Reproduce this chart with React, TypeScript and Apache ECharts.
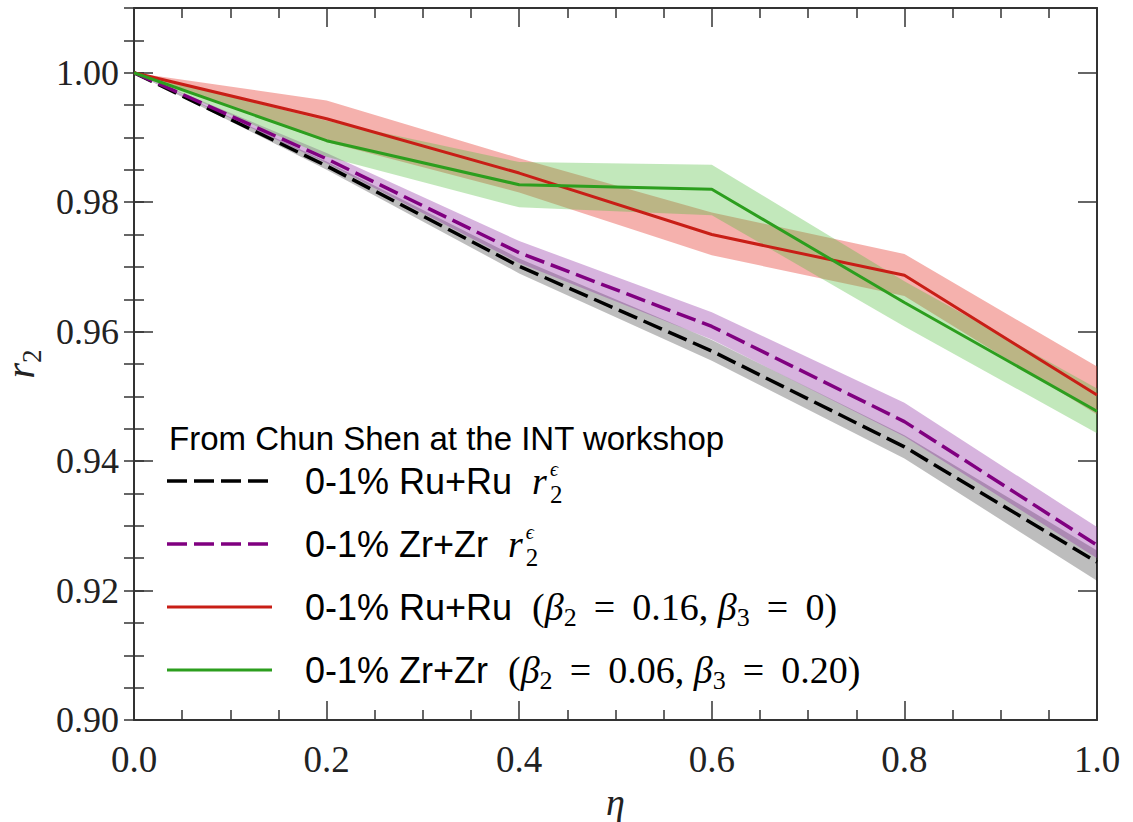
import React, { useEffect, useRef } from "react";
import * as echarts from "echarts";

// ---- data ----
const eta = [0, 0.2, 0.4, 0.6, 0.8, 1.0];

const ruEps = [1.0, 0.9856, 0.9701, 0.957, 0.9422, 0.9244];
const ruEpsLo = [1.0, 0.985, 0.969, 0.9555, 0.9404, 0.9215];
const ruEpsHi = [1.0, 0.9863, 0.9713, 0.9587, 0.944, 0.9262];

const zrEps = [1.0, 0.9867, 0.9722, 0.9608, 0.9461, 0.927];
const zrEpsLo = [1.0, 0.986, 0.9706, 0.9588, 0.9438, 0.925];
const zrEpsHi = [1.0, 0.9876, 0.974, 0.963, 0.949, 0.9298];

const ruDef = [1.0, 0.9929, 0.9845, 0.975, 0.9687, 0.9502];
const ruDefLo = [1.0, 0.9893, 0.9815, 0.9718, 0.9655, 0.9472];
const ruDefHi = [1.0, 0.9957, 0.9868, 0.9784, 0.972, 0.9546];

const zrDef = [1.0, 0.9895, 0.9827, 0.982, 0.9645, 0.9477];
const zrDefLo = [1.0, 0.987, 0.9792, 0.978, 0.9608, 0.9443];
const zrDefHi = [1.0, 0.9926, 0.9862, 0.9858, 0.9678, 0.9512];

const legendTitle = "From Chun Shen at the INT workshop";
const legendSystems = ["0-1% Ru+Ru", "0-1% Zr+Zr", "0-1% Ru+Ru", "0-1% Zr+Zr"];
const legendBeta2 = ["", "", "0.16", "0.06"];
const legendBeta3 = ["", "", "0", "0.20"];

const X_MIN = 0;
const X_MAX = 1;
const Y_MIN = 0.9;
const Y_MAX = 1.01;

const SERIF = "'Liberation Serif', 'DejaVu Serif', serif";
const SANS = "'Liberation Sans', Arial, sans-serif";
const AX = "#333";

const C_BLACK = "#000000";
const C_PURPLE = "#800080";
const C_RED = "#c81e16";
const C_GREEN = "#2c9e1e";

function measure(text: string, font: string): number {
  const c = document.createElement("canvas");
  const ctx = c.getContext("2d");
  if (!ctx) return text.length * 15;
  ctx.font = font;
  return ctx.measureText(text).width;
}

function bandSeries(lo: number[], hi: number[], fill: string) {
  return {
    type: "custom",
    silent: true,
    z: 1,
    data: eta.map((x, i) => [x, lo[i], hi[i]]),
    encode: { x: 0, y: [1, 2] },
    renderItem: (params: any, api: any) => {
      if (params.dataIndex !== 0) return null;
      const top = eta.map((x, i) => api.coord([x, hi[i]]));
      const bottom = eta.map((x, i) => api.coord([x, lo[i]])).reverse();
      return {
        type: "polygon",
        shape: { points: top.concat(bottom) },
        style: { fill, stroke: null },
      };
    },
  };
}

function lineSeries(vals: number[], color: string, dashed: boolean) {
  return {
    type: "line",
    data: eta.map((x, i) => [x, vals[i]]),
    symbol: "none",
    z: 3,
    silent: true,
    lineStyle: {
      color,
      width: dashed ? 3.5 : 3,
      type: dashed ? [20, 7] : "solid",
    },
  };
}

export default function App() {
  const ref = useRef<HTMLDivElement>(null);

  useEffect(() => {
    if (!ref.current) return;
    const chart = echarts.init(ref.current, null, { renderer: "svg" });

    const gridLeft = 134;
    const gridRight = 36;
    const gridTop = 8;
    const gridBottom = 102;

    const tickStyle = { color: AX, width: 1.5 };

    const sansFont = 36;
    const mathFont = 38;
    const legendX = 305;
    const rowY = [481, 544, 607, 670];
    const lineColors = [C_BLACK, C_PURPLE, C_RED, C_GREEN];
    const dashedRow = [true, true, false, false];
    const TS = "\u2009";

    const graphics: any[] = [];
    graphics.push({
      type: "text",
      x: 169,
      y: 438,
      silent: true,
      style: {
        text: legendTitle,
        fill: "#000",
        font: `33px ${SANS}`,
        textVerticalAlign: "middle",
        verticalAlign: "middle",
        textAlign: "left",
        align: "left",
      },
    });

    const sansW = (s: string) => measure(s + "  ", `${sansFont}px 'Liberation Sans'`);
    const rW = measure("r", `italic ${mathFont}px 'Liberation Serif'`);

    const richStyles = {
      s: { fontFamily: SANS, fontSize: sansFont, lineHeight: 48, fill: "#000", verticalAlign: "middle" },
      m: { fontFamily: SERIF, fontSize: mathFont, lineHeight: 48, fill: "#000", verticalAlign: "middle" },
      mi: { fontFamily: SERIF, fontStyle: "italic", fontSize: mathFont, lineHeight: 48, fill: "#000", verticalAlign: "middle" },
      sub: { fontFamily: SERIF, fontSize: 26, lineHeight: 26, padding: [21, 0, 0, 0], fill: "#000", verticalAlign: "top" },
    };

    legendSystems.forEach((sys, i) => {
      const y = rowY[i];
      graphics.push({
        type: "line",
        silent: true,
        shape: { x1: 167, y1: y, x2: 272, y2: y },
        style: {
          stroke: lineColors[i],
          lineWidth: dashedRow[i] ? 3.5 : 3,
          lineDash: dashedRow[i] ? [20, 7] : null,
        },
      });
      let text: string;
      if (legendBeta2[i] === "") {
        text = `{s|${sys}  }{mi|r}`;
      } else {
        text =
          `{s|${sys}  }{m|(}{mi|β}{sub|2}{m|${TS} = ${TS}${legendBeta2[i]}, }` +
          `{mi|β}{sub|3}{m|${TS} = ${TS}${legendBeta3[i]})}`;
      }
      graphics.push({
        type: "text",
        x: legendX,
        y,
        silent: true,
        style: {
          text,
          rich: richStyles,
          textVerticalAlign: "middle",
          verticalAlign: "middle",
          textAlign: "left",
          align: "left",
        },
      });
      if (legendBeta2[i] === "") {
        const sx = legendX + sansW(sys) + rW + 3;
        graphics.push({
          type: "text",
          x: sx,
          y: y - 12,
          silent: true,
          style: {
            text: "ϵ",
            fill: "#000",
            font: `italic 20px ${SERIF}`,
            textVerticalAlign: "middle",
            verticalAlign: "middle",
            textAlign: "left",
            align: "left",
          },
        });
        graphics.push({
          type: "text",
          x: sx,
          y: y + 13,
          silent: true,
          style: {
            text: "2",
            fill: "#000",
            font: `25px ${SERIF}`,
            textVerticalAlign: "middle",
            verticalAlign: "middle",
            textAlign: "left",
            align: "left",
          },
        });
      }
    });

    const baseX = {
      type: "value",
      min: X_MIN,
      max: X_MAX,
      interval: 0.2,
      splitLine: { show: false },
      axisLine: { show: true, onZero: false, lineStyle: { color: AX, width: 2 } },
      axisTick: { show: true, inside: true, length: 19, lineStyle: tickStyle },
      minorTick: { show: true, splitNumber: 4, length: 10, lineStyle: tickStyle },
      minorSplitLine: { show: false },
    };

    const baseY = {
      type: "value",
      min: Y_MIN,
      max: Y_MAX,
      splitLine: { show: false },
      minorSplitLine: { show: false },
    };

    const option: any = {
      animation: false,
      backgroundColor: "#fff",
      grid: {
        left: gridLeft,
        right: gridRight,
        top: gridTop,
        bottom: gridBottom,
        containLabel: false,
        outerBoundsMode: "none",
      },
      xAxis: [
        {
          ...baseX,
          position: "bottom",
          axisLabel: {
            show: true,
            formatter: (v: number) => v.toFixed(1),
            fontFamily: SERIF,
            fontSize: 37,
            color: "#222",
            margin: 21,
          },
          name: "η",
          nameLocation: "middle",
          nameGap: 60,
          nameTextStyle: { fontFamily: SERIF, fontStyle: "italic", fontSize: 38, color: "#222" },
        },
        {
          ...baseX,
          position: "top",
          axisLabel: { show: false },
        },
      ],
      yAxis: [
        {
          ...baseY,
          position: "left",
          interval: 0.02,
          axisLine: { show: true, onZero: false, lineStyle: { color: AX, width: 2 } },
          axisTick: { show: true, inside: true, length: 19, lineStyle: tickStyle },
          axisLabel: {
            show: true,
            showMaxLabel: false,
            formatter: (v: number) => (v > 1.0001 ? "" : v.toFixed(2)),
            fontFamily: SERIF,
            fontSize: 36,
            color: "#222",
            margin: 15,
          },
          name: "{i|r}{s|2}",
          nameLocation: "middle",
          nameGap: 84,
          nameRotate: 90,
          nameTextStyle: {
            color: "#222",
            rich: {
              i: { fontFamily: SERIF, fontStyle: "italic", fontSize: 40, lineHeight: 36, color: "#222", verticalAlign: "middle" },
              s: { fontFamily: SERIF, fontSize: 27, lineHeight: 20, padding: [16, 0, 0, 0], color: "#222", verticalAlign: "top" },
            },
          },
        },
        {
          ...baseY,
          position: "left",
          interval: 0.005,
          axisLine: { show: false },
          axisTick: { show: true, inside: true, length: 10, lineStyle: tickStyle },
          axisLabel: { show: false },
        },
        {
          ...baseY,
          position: "right",
          interval: 0.02,
          axisLine: { show: true, onZero: false, lineStyle: { color: AX, width: 2 } },
          axisTick: { show: true, inside: true, length: 19, lineStyle: tickStyle },
          axisLabel: { show: false },
        },
        {
          ...baseY,
          position: "right",
          interval: 0.005,
          axisLine: { show: false },
          axisTick: { show: true, inside: true, length: 10, lineStyle: tickStyle },
          axisLabel: { show: false },
        },
      ],
      series: [
        bandSeries(ruEpsLo, ruEpsHi, "rgba(0,0,0,0.26)"),
        bandSeries(zrEpsLo, zrEpsHi, "rgba(140,40,160,0.35)"),
        bandSeries(ruDefLo, ruDefHi, "rgba(230,60,50,0.4)"),
        bandSeries(zrDefLo, zrDefHi, "rgba(80,190,60,0.35)"),
        lineSeries(ruEps, C_BLACK, true),
        lineSeries(zrEps, C_PURPLE, true),
        lineSeries(ruDef, C_RED, false),
        lineSeries(zrDef, C_GREEN, false),
      ],
      graphic: graphics,
    };

    chart.setOption(option);
    return () => {
      chart.dispose();
    };
  }, []);

  return (
    <div
      ref={ref}
      style={{ position: "fixed", left: 0, top: 0, width: 1133, height: 822, background: "#fff" }}
    />
  );
}
